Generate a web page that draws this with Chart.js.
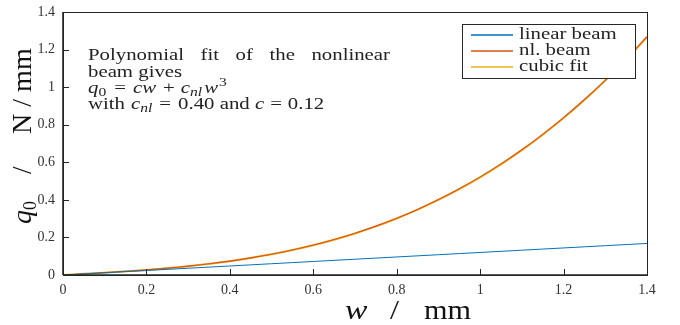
<!DOCTYPE html>
<html>
<head>
<meta charset="utf-8">
<script src="https://cdn.jsdelivr.net/npm/chart.js@4.4.1/dist/chart.umd.min.js"></script>
<style>
html,body{margin:0;padding:0;background:#fff;}
#wrap{width:680px;height:325px;position:relative;}
</style>
</head>
<body>
<div id="wrap"><canvas id="c" width="680" height="325"></canvas></div>
<script>
// deflection w [mm]
const wValues = [0,0.05,0.1,0.15,0.2,0.25,0.3,0.35,0.4,0.45,0.5,0.55,0.6,0.65,0.7,0.75,0.8,0.85,0.9,0.95,1.0,1.05,1.1,1.15,1.2,1.25,1.3,1.35,1.4];
// load q0 [N/mm]
const linearBeam = [0,0.006,0.012,0.018,0.024,0.030,0.036,0.042,0.048,0.054,0.060,0.066,0.072,0.078,0.084,0.090,0.096,0.102,0.108,0.114,0.120,0.126,0.132,0.138,0.144,0.150,0.156,0.162,0.168];
const nlBeam = [0,0.0061,0.0125,0.0195,0.0274,0.0365,0.0471,0.0595,0.0740,0.0910,0.1106,0.1333,0.1593,0.1889,0.2224,0.2601,0.3023,0.3493,0.4014,0.4590,0.5222,0.5914,0.6668,0.7489,0.8379,0.9341,1.0378,1.1494,1.2690];
const cubicFit = [0,0.00605,0.0124,0.01935,0.0272,0.03625,0.0468,0.05915,0.0736,0.09045,0.11,0.13255,0.1584,0.18785,0.2212,0.25875,0.3008,0.34765,0.3996,0.45695,0.52,0.58905,0.6644,0.74635,0.8352,0.93125,1.0348,1.14615,1.2656];
const seriesLabels = ["linear beam","nl. beam","cubic fit"];
const seriesColors = ["#0072BD","#D95319","#EDB120"];
const xTicks = [0,0.2,0.4,0.6,0.8,1,1.2,1.4];
const yTicks = [0,0.2,0.4,0.6,0.8,1,1.2,1.4];

const SERIF = '"Liberation Serif","DejaVu Serif",serif';
const AXC = '#262626';
const SX = 1.3; // horizontal stretch for the LaTeX-like text

function pts(ys){ return wValues.map((x,i)=>({x:x,y:ys[i]})); }

// draw text horizontally stretched; returns drawn width
function sText(ctx, txt, x, y, font, sx){
  ctx.font = font;
  ctx.save();
  ctx.translate(x, y);
  ctx.scale(sx, 1);
  ctx.fillText(txt, 0, 0);
  ctx.restore();
  return ctx.measureText(txt).width * sx;
}

const decor = {
  id:'decor',
  afterDatasetsDraw(chart){
    const ctx = chart.ctx, a = chart.chartArea;
    const xs = chart.scales.x, ys = chart.scales.y;
    ctx.save();
    // box
    ctx.strokeStyle = AXC; ctx.lineWidth = 1;
    ctx.strokeRect(Math.round(a.left)+0.5, Math.round(a.top)+0.5, Math.round(a.right-a.left), Math.round(a.bottom-a.top));
    ctx.lineWidth = 1.6;
    ctx.beginPath();
    ctx.moveTo(a.left, a.bottom); ctx.lineTo(a.right, a.bottom);
    ctx.moveTo(a.left, a.top); ctx.lineTo(a.left, a.bottom);
    ctx.stroke();
    // inward ticks
    ctx.lineWidth = 1;
    ctx.beginPath();
    xTicks.forEach(t=>{ const px = Math.round(xs.getPixelForValue(t))+0.5; ctx.moveTo(px,a.bottom); ctx.lineTo(px,a.bottom-6); });
    yTicks.forEach(t=>{ const py = Math.round(ys.getPixelForValue(t))+0.5; ctx.moveTo(a.left,py); ctx.lineTo(a.left+6,py); });
    ctx.stroke();

    // annotation text
    ctx.fillStyle = '#222';
    ctx.textBaseline = 'alphabetic';
    const rm = '16px '+SERIF, it = 'italic 16px '+SERIF, sm = '12px '+SERIF, smi = 'italic 12px '+SERIF;
    const words = ['Polynomial','fit','of','the','nonlinear'];
    const x0 = 88, x1 = 390;
    ctx.font = rm;
    let tw = 0; words.forEach(w=>tw+=ctx.measureText(w).width*SX);
    const gap = (x1-x0-tw)/(words.length-1);
    let cx = x0;
    words.forEach(w=>{ cx += sText(ctx, w, cx, 60, rm, SX) + gap; });
    sText(ctx, 'beam gives', x0, 77, rm, SX);
    function seg(parts, x, y){
      parts.forEach(p=>{ x += sText(ctx, p[0], x, y+(p[2]||0), p[1], SX) + (p[3]||0); });
    }
    seg([['q',it],['0',sm,3,8],['=',rm,0,7],['cw',it,0,7],['+',rm,0,6],['c',it],['nl',smi,3,2],['w',it,0,1],['3',sm,-7]], x0, 93);
    seg([['with',rm,0,6],['c',it],['nl',smi,3,7],['=',rm,0,7],['0.40 and ',rm],['c',it,0,6],['=',rm,0,6],['0.12',rm]], x0, 109);

    // legend
    ctx.fillStyle = '#fff';
    ctx.fillRect(462,24,173,54);
    ctx.strokeStyle = AXC; ctx.lineWidth = 1;
    ctx.strokeRect(462.5,24.5,173,54);
    ctx.textBaseline = 'middle';
    seriesLabels.forEach((lab,i)=>{
      const y = 35 + i*16;
      ctx.strokeStyle = seriesColors[i]; ctx.lineWidth = 1.5;
      ctx.beginPath(); ctx.moveTo(471,y); ctx.lineTo(513,y); ctx.stroke();
      ctx.fillStyle = '#222';
      sText(ctx, lab, 519, y, '16px '+SERIF, 1.3);
    });

    // axis titles
    ctx.fillStyle = '#111';
    ctx.textBaseline = 'alphabetic';
    sText(ctx, 'w', 345, 319, 'italic 28px '+SERIF, 1.2);
    sText(ctx, '/', 390, 319, '27px '+SERIF, 1.2);
    sText(ctx, 'mm', 424, 319, '27px '+SERIF, 1.12);
    ctx.save();
    ctx.translate(31, 0);
    ctx.rotate(-Math.PI/2);
    ctx.font = 'italic 28px '+SERIF; ctx.fillText('q', -224, 0);
    ctx.font = '18px '+SERIF; ctx.fillText('0', -210, 5);
    ctx.font = '27px '+SERIF; ctx.fillText('/', -174, 0);
    sText(ctx, 'N / mm', -134, 0, '27px '+SERIF, 1.04);
    ctx.restore();
    ctx.restore();
  }
};

new Chart(document.getElementById('c'), {
  type:'line',
  data:{
    datasets:[
      {label:seriesLabels[0], data:pts(linearBeam), borderColor:seriesColors[0], borderWidth:1, pointRadius:0, tension:0},
      {label:seriesLabels[1], data:pts(nlBeam), borderColor:seriesColors[1], borderWidth:1.1, pointRadius:0, tension:0.3},
      {label:seriesLabels[2], data:pts(cubicFit), borderColor:seriesColors[2], borderWidth:2, pointRadius:0, tension:0.3}
    ]
  },
  options:{
    responsive:false, animation:false,
    layout:{padding:{left:0,right:33,top:12,bottom:0}},
    plugins:{legend:{display:false}, tooltip:{enabled:false}},
    scales:{
      x:{type:'linear', min:0, max:1.4,
        afterBuildTicks(s){ s.ticks = xTicks.map(v=>({value:v})); },
        afterFit(s){ s.height = 50; s.paddingLeft = 0; s.paddingRight = 0; },
        grid:{display:false, drawTicks:false}, border:{display:false},
        ticks:{padding:7, color:'#333', font:{family:SERIF,size:14}, maxRotation:0, callback:v=>String(v)}
      },
      y:{type:'linear', min:0, max:1.4,
        afterBuildTicks(s){ s.ticks = yTicks.map(v=>({value:v})); },
        afterFit(s){ s.width = 63; s.paddingTop = 0; s.paddingBottom = 0; },
        grid:{display:false, drawTicks:false}, border:{display:false},
        ticks:{padding:8, color:'#333', font:{family:SERIF,size:14}, callback:v=>String(v)}
      }
    }
  },
  plugins:[decor]
});
</script>
</body>
</html>
